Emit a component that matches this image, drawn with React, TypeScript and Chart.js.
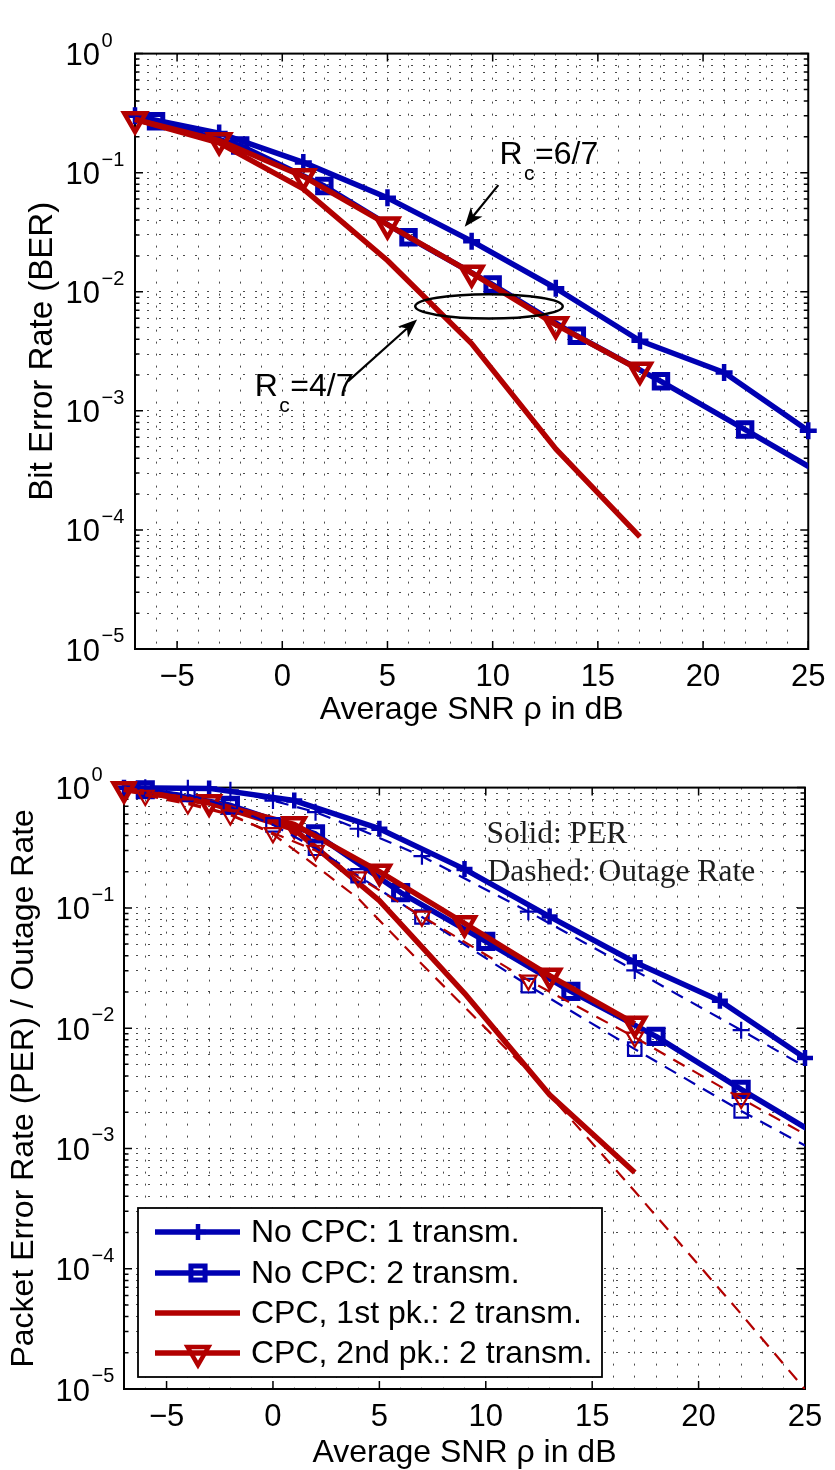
import React, { useEffect, useRef } from 'react';
import { Chart, registerables } from 'chart.js';

Chart.register(...registerables);

// ---------------- axes ----------------
const X_MIN = -7;
const X_MAX = 25;
const X_TICKS = [-5, 0, 5, 10, 15, 20, 25];
const Y_EXPONENTS = [-5, -4, -3, -2, -1, 0];

// ---------------- top chart: BER ----------------
const BER_X_NOCPC1 = [-7, -3, 1, 5, 9, 13, 17, 21, 25];
const BER_NOCPC1 = [0.3, 0.215, 0.122, 0.0615, 0.0266, 0.0107, 0.00388, 0.0021, 0.00068];
const BER_X_NOCPC2 = [-6, -2, 2, 6, 10, 14, 18, 22, 26];
const BER_NOCPC2 = [0.27, 0.169, 0.0773, 0.0287, 0.0115, 0.00427, 0.00177, 0.000696, 0.00027];
const BER_X_CPC = [-7, -3, 1, 5, 9, 13, 17];
const BER_CPC1 = [0.28, 0.178, 0.073, 0.0183, 0.00367, 0.000479, 0.0000874];
const BER_CPC2 = [0.28, 0.186, 0.093, 0.0366, 0.0144, 0.0053, 0.0022];

// ---------------- bottom chart: PER (solid) ----------------
const PER_X_NOCPC1 = [-7, -3, 1, 5, 9, 13, 17, 21, 25];
const PER_NOCPC1 = [0.995, 0.985, 0.78, 0.455, 0.21, 0.0847, 0.0353, 0.0169, 0.00565];
const PER_X_NOCPC2 = [-6, -2, 2, 6, 10, 14, 18, 22, 26];
const PER_NOCPC2 = [0.96, 0.713, 0.412, 0.134, 0.0526, 0.0202, 0.00855, 0.0031, 0.00117];
const PER_X_CPC = [-7, -3, 1, 5, 9, 13, 17];
const PER_CPC1 = [0.97, 0.745, 0.45, 0.115, 0.0195, 0.0028, 0.00063];
const PER_CPC2 = [0.97, 0.755, 0.495, 0.2, 0.0745, 0.0273, 0.0109];

// ---------------- bottom chart: outage rate (dashed) ----------------
const OUT_X = [-6, -4, -2, 0, 2, 4, 7, 12, 17, 22, 27];
const OUT_NOCPC1 = [0.995, 0.99, 0.95, 0.78, 0.625, 0.455, 0.269, 0.093, 0.0302, 0.00962, 0.003];
const OUT_NOCPC2 = [0.97, 0.877, 0.69, 0.49, 0.313, 0.185, 0.084, 0.0226, 0.0067, 0.00205, 0.00068];
const OUT_CPC1 = [0.87, 0.75, 0.6, 0.41, 0.224, 0.12, 0.034, 0.0044, 0.00044, 0.000042, 0.0000038];
const OUT_CPC2 = [0.86, 0.73, 0.59, 0.42, 0.3, 0.18, 0.085, 0.025, 0.0084, 0.0026, 0.00083];

// ---------------- labels ----------------
const LABEL_NOCPC1 = 'No CPC: 1 transm.';
const LABEL_NOCPC2 = 'No CPC: 2 transm.';
const LABEL_CPC1 = 'CPC, 1st pk.: 2 transm.';
const LABEL_CPC2 = 'CPC, 2nd pk.: 2 transm.';
const LEGEND_LABELS = [LABEL_NOCPC1, LABEL_NOCPC2, LABEL_CPC1, LABEL_CPC2];

// ---------------- annotations (data coordinates) ----------------
const RC_HIGH = { x: 10.32, y: 0.1188, rate: '=6/7' };
const RC_LOW = { x: -1.31, y: 0.00134, rate: '=4/7' };
const ARROWS_TOP = [
  { x0: 10.27, y0: 0.0787, x1: 8.67, y1: 0.0352 },
  { x0: 3.12, y0: 0.00177, x1: 6.41, y1: 0.00586 },
];
const ELLIPSE_TOP = { xMin: 6.32, xMax: 13.33, yMin: 0.00597, yMax: 0.00953 };
const NOTE_SOLID = { x: 10.03, y: 0.3435, text: 'Solid: PER' };
const NOTE_DASHED = { x: 10.08, y: 0.168, text: 'Dashed: Outage Rate' };

// ---------------- styling ----------------
const SANS = "'Liberation Sans', Arial, Helvetica, sans-serif";
const SERIF = "'Liberation Serif', 'Times New Roman', serif";
const BLUE = 'rgb(0,0,178)';
const RED = 'rgb(178,0,0)';
const GRID_COLOR = 'rgba(30,30,30,0.8)';
const GRID_DASH = [2, 10];

const X_GRID = Array.from({ length: X_MAX - X_MIN + 1 }, (_, i) => X_MIN + i);
const Y_GRID: number[] = (() => {
  const out: number[] = [];
  for (let e = -5; e <= -1; e++) {
    for (let m = 1; m <= 9; m++) out.push(Number((m * Math.pow(10, e)).toPrecision(3)));
  }
  out.push(1);
  return out;
})();

function isDecade(v: number) {
  const l = Math.log10(v);
  return Math.abs(l - Math.round(l)) < 1e-6;
}
function fmtX(v: number) {
  return v < 0 ? '\u2212' + Math.abs(v) : String(v);
}

type Style = {
  color: string;
  width: number;
  dash?: number[];
  marker?: string;
  radius?: number;
  markerWidth?: number;
  rotation?: number;
  order: number;
  clipRight?: boolean;
};

function makeDataset(label: string, xs: number[], ys: number[], st: Style) {
  return {
    label,
    data: xs.map((x, i) => ({ x, y: ys[i] })),
    borderColor: st.color,
    backgroundColor: st.color,
    borderWidth: st.width,
    borderDash: st.dash || [],
    borderCapStyle: 'butt',
    borderJoinStyle: 'round',
    tension: 0,
    fill: false,
    pointStyle: st.marker || 'circle',
    pointRadius: st.marker ? st.radius : 0,
    pointHoverRadius: st.marker ? st.radius : 0,
    pointBorderWidth: st.markerWidth || 0,
    pointBorderColor: st.color,
    pointBackgroundColor: 'rgba(0,0,0,0)',
    pointRotation: st.rotation || 0,
    order: st.order,
    clip: st.clipRight ? { left: false, top: false, right: 0, bottom: 0 } : false,
    _marker: st.marker,
    _radius: st.radius,
    _markerWidth: st.markerWidth,
    _rotation: st.rotation || 0,
  };
}

// ---------------- drawing helpers ----------------
function drawMarker(ctx: CanvasRenderingContext2D, marker: string, x: number, y: number, r: number, rotation: number) {
  ctx.beginPath();
  if (marker === 'cross') {
    ctx.moveTo(x - r, y);
    ctx.lineTo(x + r, y);
    ctx.moveTo(x, y - r);
    ctx.lineTo(x, y + r);
  } else if (marker === 'rect') {
    const s = r * Math.SQRT1_2;
    ctx.rect(x - s, y - s, 2 * s, 2 * s);
  } else if (marker === 'triangle') {
    let rad = (rotation * Math.PI) / 180;
    ctx.moveTo(x + Math.sin(rad) * r, y - Math.cos(rad) * r);
    for (let k = 0; k < 2; k++) {
      rad += (2 * Math.PI) / 3;
      ctx.lineTo(x + Math.sin(rad) * r, y - Math.cos(rad) * r);
    }
    ctx.closePath();
  }
  ctx.stroke();
}

function drawArrow(ctx: CanvasRenderingContext2D, x0: number, y0: number, x1: number, y1: number) {
  const dx = x1 - x0;
  const dy = y1 - y0;
  const L = Math.hypot(dx, dy);
  const ux = dx / L;
  const uy = dy / L;
  const hl = 19;
  const hw = 7.5;
  const bx = x1 - ux * hl;
  const by = y1 - uy * hl;
  const nx = x1 - ux * hl * 0.72;
  const ny = y1 - uy * hl * 0.72;
  ctx.beginPath();
  ctx.moveTo(x0, y0);
  ctx.lineTo(nx, ny);
  ctx.stroke();
  ctx.beginPath();
  ctx.moveTo(x1, y1);
  ctx.lineTo(bx - uy * hw, by + ux * hw);
  ctx.lineTo(nx, ny);
  ctx.lineTo(bx + uy * hw, by - ux * hw);
  ctx.closePath();
  ctx.fill();
}

// ---------------- plugins ----------------
const frameTicksPlugin = {
  id: 'frameTicks',
  beforeDatasetsDraw(chart: any) {
    const { ctx, chartArea: a } = chart;
    const sx = chart.scales.x;
    const sy = chart.scales.y;
    ctx.save();
    ctx.setLineDash([]);
    ctx.strokeStyle = '#000';
    ctx.lineWidth = 1.5;
    ctx.beginPath();
    for (const v of X_TICKS) {
      const px = sx.getPixelForValue(v);
      ctx.moveTo(px, a.bottom);
      ctx.lineTo(px, a.bottom - 8);
      ctx.moveTo(px, a.top);
      ctx.lineTo(px, a.top + 8);
    }
    for (const v of Y_GRID) {
      const py = sy.getPixelForValue(v);
      const len = isDecade(v) ? 8 : 4.5;
      ctx.moveTo(a.left, py);
      ctx.lineTo(a.left + len, py);
      ctx.moveTo(a.right, py);
      ctx.lineTo(a.right - len, py);
    }
    ctx.stroke();
    ctx.lineWidth = 2;
    ctx.strokeRect(a.left, a.top, a.right - a.left, a.bottom - a.top);
    ctx.restore();
  },
};

function exponentPlugin(pad: number) {
  return {
    id: 'exponents',
    afterDraw(chart: any) {
      const { ctx, chartArea: a } = chart;
      const sy = chart.scales.y;
      ctx.save();
      ctx.fillStyle = '#000';
      ctx.font = `20px ${SANS}`;
      ctx.textAlign = 'left';
      ctx.textBaseline = 'alphabetic';
      for (const e of Y_EXPONENTS) {
        const py = sy.getPixelForValue(Math.pow(10, e));
        ctx.fillText(e === 0 ? '0' : '\u2212' + Math.abs(e), a.left - pad + 1.5, py - 7);
      }
      ctx.restore();
    },
  };
}

function drawRc(ctx: CanvasRenderingContext2D, px: number, py: number, rate: string) {
  ctx.font = `32px ${SANS}`;
  ctx.fillText('R', px, py);
  const wR = ctx.measureText('R').width;
  ctx.font = `21px ${SANS}`;
  ctx.fillText('c', px + wR + 1.5, py + 16);
  const wc = ctx.measureText('c').width;
  ctx.font = `32px ${SANS}`;
  ctx.fillText(rate, px + wR + 1.5 + wc + 0.5, py);
}

const topNotesPlugin = {
  id: 'topNotes',
  afterDatasetsDraw(chart: any) {
    const { ctx } = chart;
    const sx = chart.scales.x;
    const sy = chart.scales.y;
    ctx.save();
    ctx.setLineDash([]);
    ctx.fillStyle = '#000';
    ctx.strokeStyle = '#000';
    ctx.textAlign = 'left';
    ctx.textBaseline = 'alphabetic';
    drawRc(ctx, sx.getPixelForValue(RC_HIGH.x), sy.getPixelForValue(RC_HIGH.y), RC_HIGH.rate);
    drawRc(ctx, sx.getPixelForValue(RC_LOW.x), sy.getPixelForValue(RC_LOW.y), RC_LOW.rate);
    ctx.lineWidth = 2.2;
    for (const ar of ARROWS_TOP) {
      drawArrow(ctx, sx.getPixelForValue(ar.x0), sy.getPixelForValue(ar.y0), sx.getPixelForValue(ar.x1), sy.getPixelForValue(ar.y1));
    }
    const l = sx.getPixelForValue(ELLIPSE_TOP.xMin);
    const r = sx.getPixelForValue(ELLIPSE_TOP.xMax);
    const t = sy.getPixelForValue(ELLIPSE_TOP.yMax);
    const b = sy.getPixelForValue(ELLIPSE_TOP.yMin);
    ctx.lineWidth = 2.5;
    ctx.beginPath();
    ctx.ellipse((l + r) / 2, (t + b) / 2, (r - l) / 2, (b - t) / 2, 0, 0, Math.PI * 2);
    ctx.stroke();
    ctx.restore();
  },
};

const bottomNotesPlugin = {
  id: 'bottomNotes',
  afterDatasetsDraw(chart: any) {
    const { ctx, chartArea: a } = chart;
    const sx = chart.scales.x;
    const sy = chart.scales.y;
    ctx.save();
    ctx.setLineDash([]);
    ctx.fillStyle = '#1e1e1e';
    ctx.textAlign = 'left';
    ctx.textBaseline = 'alphabetic';
    ctx.font = `31.5px ${SERIF}`;
    for (const n of [NOTE_SOLID, NOTE_DASHED]) {
      ctx.fillText(n.text, sx.getPixelForValue(n.x), sy.getPixelForValue(n.y));
    }

    // legend box (south-west)
    const w = 464;
    const h = 169;
    const x0 = a.left + 14;
    const y0 = a.bottom - 12 - h;
    const rows = [24, 65, 105, 145];
    ctx.fillStyle = '#fff';
    ctx.fillRect(x0, y0, w, h);
    ctx.strokeStyle = '#000';
    ctx.lineWidth = 1.8;
    ctx.strokeRect(x0, y0, w, h);
    LEGEND_LABELS.forEach((lab, i) => {
      const ds = chart.data.datasets.find((d: any) => d.label === lab);
      if (!ds) return;
      const y = y0 + rows[i];
      ctx.strokeStyle = ds.borderColor;
      ctx.lineWidth = ds.borderWidth;
      ctx.lineCap = 'butt';
      ctx.beginPath();
      ctx.moveTo(x0 + 17, y);
      ctx.lineTo(x0 + 102, y);
      ctx.stroke();
      if (ds._marker) {
        ctx.lineWidth = ds._markerWidth;
        drawMarker(ctx, ds._marker, x0 + 60, y, ds._radius, ds._rotation);
      }
      ctx.fillStyle = '#000';
      ctx.font = `32px ${SANS}`;
      ctx.textBaseline = 'middle';
      ctx.fillText(lab, x0 + 113, y + 1.5);
    });
    ctx.restore();
  },
};

// ---------------- chart config ----------------
type AxisCfg = {
  yTitle: string;
  yTitleSize: number;
  xAxisHeight: number;
  yAxisWidth: number;
  xTickPad: number;
  yTickPad: number;
  xTitlePad: number;
  yTitlePad: number;
};

function makeScales(c: AxisCfg) {
  return {
    x: {
      type: 'linear',
      min: X_MIN,
      max: X_MAX,
      afterBuildTicks: (s: any) => {
        s.ticks = X_GRID.map((v) => ({ value: v }));
      },
      afterFit: (s: any) => {
        s.height = c.xAxisHeight;
      },
      ticks: {
        autoSkip: false,
        maxRotation: 0,
        minRotation: 0,
        padding: c.xTickPad,
        color: '#000',
        font: { family: SANS, size: 31 },
        callback: (v: number) => (X_TICKS.includes(v) ? fmtX(v) : ''),
      },
      grid: { display: true, drawTicks: false, color: GRID_COLOR, lineWidth: 1 },
      border: { display: false, dash: GRID_DASH },
      title: {
        display: true,
        text: 'Average SNR \u03C1 in dB',
        color: '#000',
        font: { family: SANS, size: 32, lineHeight: 1 },
        padding: { top: 0, bottom: c.xTitlePad },
      },
    },
    y: {
      type: 'logarithmic',
      min: 1e-5,
      max: 1,
      afterBuildTicks: (s: any) => {
        s.ticks = Y_GRID.map((v) => ({ value: v }));
      },
      afterFit: (s: any) => {
        s.width = c.yAxisWidth;
      },
      ticks: {
        autoSkip: false,
        padding: c.yTickPad,
        labelOffset: 3,
        color: '#000',
        font: { family: SANS, size: 31 },
        callback: (v: number) => (isDecade(v) ? '10' : ''),
      },
      grid: { display: true, drawTicks: false, color: GRID_COLOR, lineWidth: 1 },
      border: { display: false, dash: GRID_DASH },
      title: {
        display: true,
        text: c.yTitle,
        color: '#000',
        font: { family: SANS, size: c.yTitleSize, lineHeight: 1 },
        padding: { top: c.yTitlePad, bottom: 0 },
      },
    },
  };
}

function baseOptions(padding: any, scales: any) {
  return {
    responsive: false,
    maintainAspectRatio: false,
    animation: false,
    devicePixelRatio: 1,
    events: [],
    layout: { padding },
    plugins: { legend: { display: false }, tooltip: { enabled: false }, title: { display: false } },
    scales,
  };
}

function buildTop() {
  const datasets = [
    makeDataset(LABEL_NOCPC1, BER_X_NOCPC1, BER_NOCPC1, { color: BLUE, width: 5.5, marker: 'cross', radius: 8.5, markerWidth: 4.5, order: 4 }),
    makeDataset(LABEL_NOCPC2, BER_X_NOCPC2, BER_NOCPC2, { color: BLUE, width: 5.5, marker: 'rect', radius: 9.5, markerWidth: 5, order: 3, clipRight: true }),
    makeDataset(LABEL_CPC1, BER_X_CPC, BER_CPC1, { color: RED, width: 5.5, order: 2 }),
    makeDataset(LABEL_CPC2, BER_X_CPC, BER_CPC2, { color: RED, width: 5.5, marker: 'triangle', radius: 12.5, markerWidth: 4.5, rotation: 180, order: 1 }),
  ];
  return {
    type: 'line',
    data: { datasets },
    options: baseOptions(
      { top: 33, right: 20, bottom: 0, left: 0 },
      makeScales({ yTitle: 'Bit Error Rate (BER)', yTitleSize: 33, xAxisHeight: 86, yAxisWidth: 135, xTickPad: 9.5, yTickPad: 35, xTitlePad: 9, yTitlePad: 26 })
    ),
    plugins: [frameTicksPlugin, exponentPlugin(35), topNotesPlugin],
  };
}

function buildBottom() {
  const dash = [13, 9];
  const datasets = [
    makeDataset(LABEL_NOCPC1, PER_X_NOCPC1, PER_NOCPC1, { color: BLUE, width: 5.5, marker: 'cross', radius: 8, markerWidth: 4.5, order: 8 }),
    makeDataset(LABEL_NOCPC2, PER_X_NOCPC2, PER_NOCPC2, { color: BLUE, width: 5.5, marker: 'rect', radius: 10, markerWidth: 5, order: 7, clipRight: true }),
    makeDataset(LABEL_CPC1, PER_X_CPC, PER_CPC1, { color: RED, width: 5.5, order: 6 }),
    makeDataset(LABEL_CPC2, PER_X_CPC, PER_CPC2, { color: RED, width: 5.5, marker: 'triangle', radius: 12, markerWidth: 4.5, rotation: 180, order: 5 }),
    makeDataset('Outage, no CPC: 1 transm.', OUT_X, OUT_NOCPC1, { color: BLUE, width: 2.2, dash, marker: 'cross', radius: 8.5, markerWidth: 2.2, order: 4, clipRight: true }),
    makeDataset('Outage, no CPC: 2 transm.', OUT_X, OUT_NOCPC2, { color: BLUE, width: 2.2, dash, marker: 'rect', radius: 9.5, markerWidth: 2.2, order: 3, clipRight: true }),
    makeDataset('Outage, CPC 1st pk.: 2 transm.', OUT_X, OUT_CPC1, { color: RED, width: 2.2, dash, order: 2, clipRight: true }),
    makeDataset('Outage, CPC 2nd pk.: 2 transm.', OUT_X, OUT_CPC2, { color: RED, width: 2.2, dash, marker: 'triangle', radius: 9.5, markerWidth: 2.2, rotation: 180, order: 1, clipRight: true }),
  ];
  return {
    type: 'line',
    data: { datasets },
    options: baseOptions(
      { top: 40, right: 30, bottom: 0, left: 0 },
      makeScales({ yTitle: 'Packet Error Rate (PER) / Outage Rate', yTitleSize: 32, xAxisHeight: 81, yAxisWidth: 124, xTickPad: 10, yTickPad: 34, xTitlePad: 1, yTitlePad: 8 })
    ),
    plugins: [frameTicksPlugin, exponentPlugin(34), bottomNotesPlugin],
  };
}

function ChartCanvas({ build }: { build: () => any }) {
  const ref = useRef<HTMLCanvasElement>(null);
  useEffect(() => {
    if (!ref.current) return;
    const chart = new Chart(ref.current, build());
    return () => chart.destroy();
  }, [build]);
  return <canvas ref={ref} width={835} height={735} style={{ display: 'block', width: 835, height: 735 }} />;
}

export default function App() {
  return (
    <div style={{ position: 'absolute', left: 0, top: 0, width: 835, height: 1470, background: '#fff', overflow: 'hidden' }}>
      <ChartCanvas build={buildTop} />
      <ChartCanvas build={buildBottom} />
    </div>
  );
}
